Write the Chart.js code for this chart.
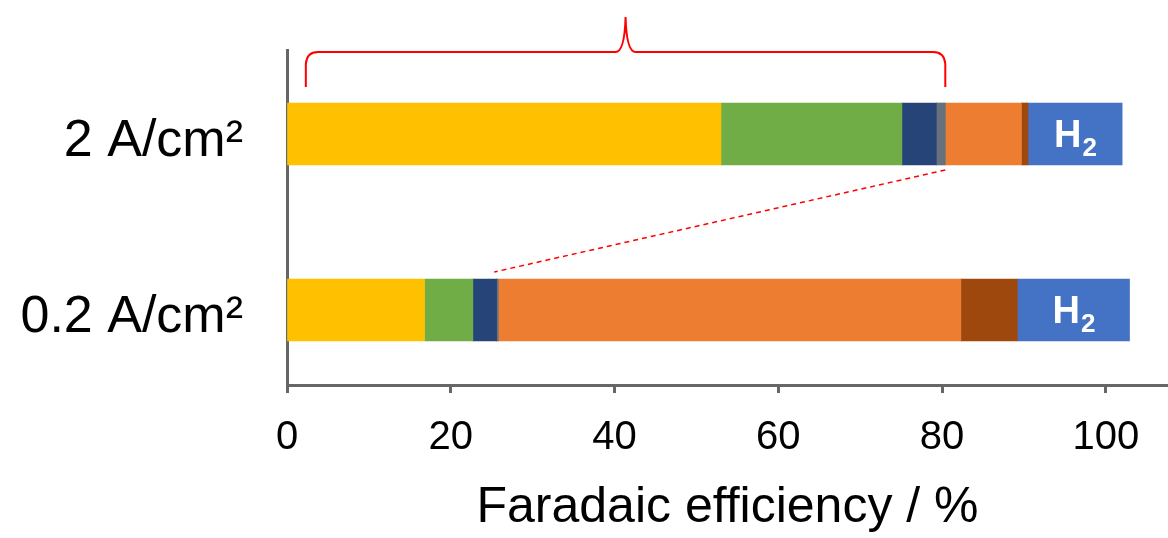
<!DOCTYPE html>
<html>
<head>
<meta charset="utf-8">
<script src="https://cdn.jsdelivr.net/npm/chart.js@4"></script>
<style>
  html, body { margin: 0; padding: 0; background: #fff; }
  #wrap { width: 1168px; height: 538px; }
</style>
</head>
<body>
<div id="wrap"><canvas id="feChart" width="1168" height="538"></canvas></div>
<script>
// current densities (rows, top to bottom)
let categories = ['2 A/cm\u00b2', '0.2 A/cm\u00b2'];

// faradaic efficiency of each product, %
let yellowFE = [53.0, 16.8];
let greenFE  = [22.1, 5.9];
let navyFE   = [4.2, 2.9];
let greyFE   = [1.1, 0.2];
let orangeFE = [9.3, 56.5];
let brownFE  = [0.8, 6.9];
let h2FE     = [11.5, 13.7];

let xTicks = [0, 20, 40, 60, 80, 100];
let bracketStart = 2.3;

let font = "'Liberation Sans', Arial, sans-serif";

function ds(data, color, label) {
  return {
    label: label,
    data: data,
    backgroundColor: color,
    borderWidth: 0,
    barThickness: 62
  };
}

let datasets = [
  ds(yellowFE, '#FFC000', 'yellow'),
  ds(greenFE, '#70AD47', 'green'),
  ds(navyFE, '#264478', 'navy'),
  ds(greyFE, '#66717d', 'grey'),
  ds(orangeFE, '#ED7D31', 'orange'),
  ds(brownFE, '#9E480E', 'brown'),
  ds(h2FE, '#4472C4', 'H2')
];

// extra drawing: H2 labels, red bracket and dashed guide line
let extras = {
  id: 'extras',
  afterDatasetsDraw(chart) {
    let ctx = chart.ctx;
    let x = chart.scales.x;

    // H2 text in the blue segments
    let h2meta = chart.getDatasetMeta(datasets.length - 1);
    h2meta.data.forEach(function (el) {
      let cx = (el.x + el.base) / 2;
      let cy = el.y;
      ctx.save();
      ctx.fillStyle = '#fff';
      ctx.textBaseline = 'alphabetic';
      ctx.font = 'bold 38px ' + font;
      let wH = ctx.measureText('H').width;
      ctx.font = 'bold 26px ' + font;
      let w2 = ctx.measureText('2').width;
      let left = cx - (wH + w2) / 2;
      ctx.font = 'bold 38px ' + font;
      ctx.fillText('H', left, cy + 13);
      ctx.font = 'bold 26px ' + font;
      ctx.fillText('2', left + wH + 1, cy + 22);
      ctx.restore();
    });

    // cumulative end of the grey segment on each bar
    let greyMeta = chart.getDatasetMeta(3);
    let topEl = greyMeta.data[0];
    let botEl = greyMeta.data[1];
    let topBarTop = topEl.y - 31;
    let topBarBottom = topEl.y + 31;
    let botBarTop = botEl.y - 31;

    // curly bracket over the top bar
    let xs = x.getPixelForValue(bracketStart);
    let xe = topEl.x;
    let xm = (xs + xe) / 2;
    let yArm = topBarTop - 16;
    let yLine = topBarTop - 51;
    let yPeak = topBarTop - 86;
    ctx.save();
    ctx.strokeStyle = '#FF0000';
    ctx.lineWidth = 2;
    ctx.beginPath();
    ctx.moveTo(xs, yArm);
    ctx.lineTo(xs, yLine + 12);
    ctx.quadraticCurveTo(xs + 1, yLine, xs + 12, yLine);
    ctx.lineTo(xm - 10, yLine);
    ctx.quadraticCurveTo(xm - 1, yLine, xm, yPeak);
    ctx.quadraticCurveTo(xm + 1, yLine, xm + 10, yLine);
    ctx.lineTo(xe - 12, yLine);
    ctx.quadraticCurveTo(xe - 1, yLine, xe, yLine + 12);
    ctx.lineTo(xe, yArm);
    ctx.stroke();

    // dashed line from top bar to bottom bar
    ctx.lineWidth = 1.5;
    ctx.setLineDash([5, 4]);
    ctx.beginPath();
    ctx.moveTo(xe, topBarBottom + 5);
    ctx.lineTo(botEl.x - 4, botBarTop - 7);
    ctx.stroke();
    ctx.restore();
  }
};

new Chart(document.getElementById('feChart'), {
  type: 'bar',
  data: {
    labels: categories.map(function (c, i) { return i; }),
    datasets: datasets
  },
  options: {
    indexAxis: 'y',
    responsive: false,
    animation: false,
    layout: { padding: { top: 50, right: 0, left: 0, bottom: 0 } },
    plugins: {
      legend: { display: false },
      tooltip: { enabled: false }
    },
    scales: {
      x: {
        type: 'linear',
        stacked: true,
        min: 0,
        max: 107.6,
        afterBuildTicks: function (axis) {
          axis.ticks = xTicks.map(function (v) { return { value: v }; });
        },
        afterFit: function (scale) {
          scale.height = 153;
          scale.paddingLeft = 0;
          scale.paddingRight = 0;
        },
        ticks: {
          color: '#000',
          padding: 21,
          font: { family: font, size: 40 },
          maxRotation: 0
        },
        grid: {
          display: true,
          drawOnChartArea: false,
          drawTicks: true,
          tickLength: 8,
          tickWidth: 3,
          tickColor: '#666'
        },
        border: { display: true, color: '#666', width: 3 },
        title: {
          display: true,
          text: 'Faradaic efficiency / %',
          color: '#000',
          font: { family: font, size: 50 },
          padding: { top: 0, bottom: 0 }
        }
      },
      y: {
        type: 'linear',
        stacked: true,
        reverse: true,
        offset: false,
        min: -0.477,
        max: 1.426,
        afterBuildTicks: function (axis) {
          axis.ticks = categories.map(function (c, i) { return { value: i }; });
        },
        afterFit: function (scale) {
          scale.width = 287;
          scale.paddingTop = 0;
          scale.paddingBottom = 0;
        },
        ticks: {
          color: '#000',
          padding: 36,
          labelOffset: 8,
          font: { family: font, size: 52 },
          callback: function (v) { return categories[v]; }
        },
        grid: { display: false, offset: false },
        border: { display: true, color: '#666', width: 3 }
      }
    }
  },
  plugins: [extras]
});
</script>
</body>
</html>
